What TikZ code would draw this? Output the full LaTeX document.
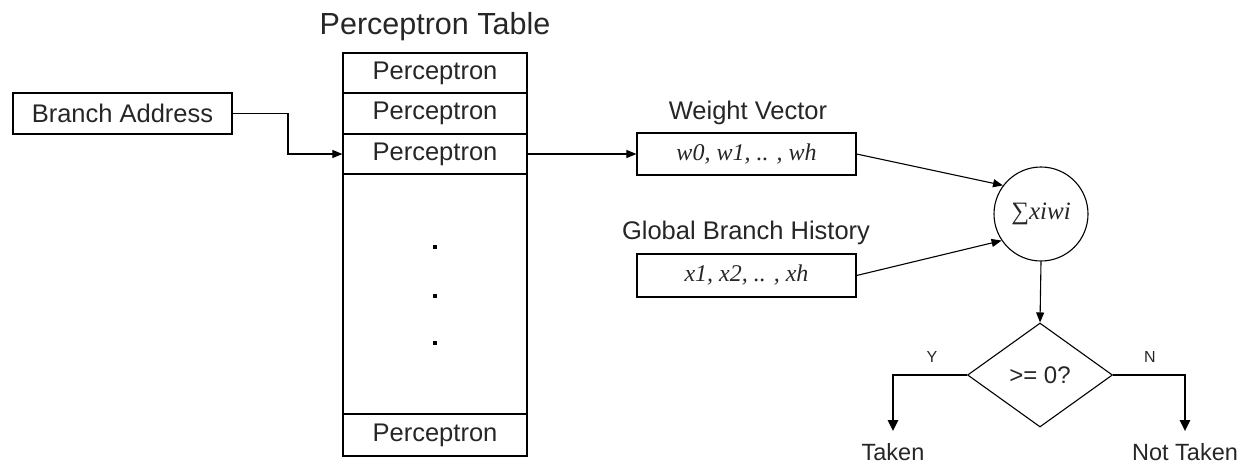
\documentclass[tikz,border=0pt]{standalone}
\usepackage{fontspec}
\setmainfont{Liberation Sans}
\newfontfamily\seriffont{Liberation Serif}
\usetikzlibrary{arrows.meta,shapes.geometric}
\begin{document}
\begin{tikzpicture}[x=1pt,y=-1pt,
  box/.style={draw,line width=1.2pt,rectangle,inner sep=0pt,
    font=\fontsize{25.5}{28}\selectfont,text=black!85},
  cell/.style={box,minimum width=184pt},
  label/.style={inner sep=0pt,font=\fontsize{25.5}{28}\selectfont,text=black!85},
  outcome/.style={label,font=\fontsize{23.5}{26}\selectfont,inner ysep=12pt},
  arr/.style={line width=1.1pt,-{Triangle[length=10pt,width=8pt]}},
  barr/.style={line width=2.4pt,-{Triangle[length=11pt,width=10pt]}},
  dot/.style={fill=black,minimum size=4pt,inner sep=0pt,rectangle}]
\useasboundingbox (0,0) rectangle (1247,464);

% perceptron table
\node[label,font=\fontsize{30.5}{33}\selectfont] (title) at (435,27) {Perceptron Table};
\node[cell,minimum height=40pt] (p1) at (435,73) {Perceptron};
\node[cell,minimum height=41pt] (p2) at (435,113.5) {Perceptron};
\node[cell,minimum height=40pt] (p3) at (435,154) {Perceptron};
\node[cell,minimum height=240pt] (pmid) at (435,294) {};
\node[cell,minimum height=42pt] (plast) at (435,435) {Perceptron};
\node[dot] (d1) at (435,247) {};
\node[dot] (d2) at (435,296) {};
\node[dot] (d3) at (435,343) {};

% branch address input
\node[box,minimum width=219pt,minimum height=41pt] (ba) at (122.5,113.5) {Branch Address};
\coordinate (bend) at (288,113.5);
\draw[arr] (ba.east) -- (bend) |- (p3.west);

% weight vector and history
\node[label] (wvl) at (748,113) {Weight Vector};
\node[box,minimum width=219pt,minimum height=42pt,font=\fontsize{24}{26}\seriffont\itshape] (wv) at (746.5,154) {w0, w1, .. , wh};
\draw[arr] (p3.east) -- (wv.west);
\node[label] (ghl) at (746,233) {Global Branch History};
\node[box,minimum width=219pt,minimum height=43pt,font=\fontsize{24}{26}\seriffont\itshape] (gh) at (746.5,275.5) {x1, x2, .. , xh};

% summation and decision
\node[draw,circle,line width=1.1pt,minimum size=94pt,inner sep=0pt,
  font=\fontsize{25}{28}\seriffont,text=black!85] (sum) at (1041,214) {∑\itshape xiwi};
\draw[arr] (wv.east) -- (sum.143);
\draw[arr] (gh.east) -- (sum.214);
\node[draw,diamond,line width=1.1pt,minimum width=145pt,minimum height=104pt,
  inner sep=0pt,font=\fontsize{24}{26}\selectfont,text=black!85] (dec) at (1040,375) {>= 0?};
\draw[arr] (sum.south) -- (dec.north);

\node[outcome] (taken) at (893,452) {Taken};
\node[outcome] (ntaken) at (1185,452) {Not Taken};
\draw[barr] (dec.west) -| (taken.north);
\draw[barr] (dec.east) -| (ntaken.north);
\node[label,font=\fontsize{16}{18}\selectfont] (ylab) at (932,357) {Y};
\node[label,font=\fontsize{16}{18}\selectfont] (nlab) at (1150,357) {N};
\end{tikzpicture}
\end{document}
